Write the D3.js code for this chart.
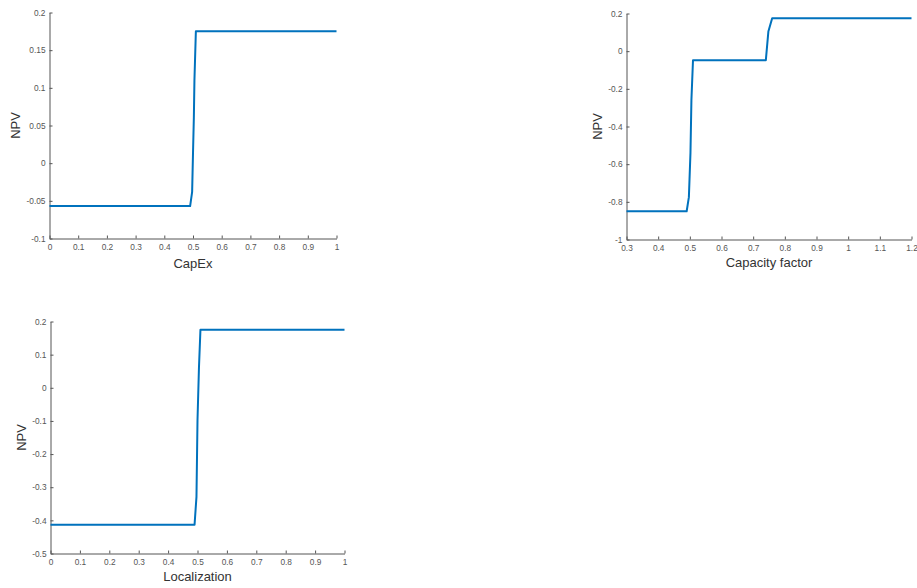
<!DOCTYPE html>
<html>
<head>
<meta charset="utf-8">
<script src="https://cdn.jsdelivr.net/npm/d3@7"></script>
<style>
  html, body { margin: 0; padding: 0; background: #fff; }
  svg { display: block; font-family: Arial, "Liberation Sans", Helvetica, sans-serif; }
</style>
</head>
<body>
<svg id="chart" width="917" height="588"></svg>
<script>
// ---- Data ----
const capexX   = [0, 0.49, 0.497, 0.5, 0.503, 0.505, 0.51, 1];
const capexNPV = [-0.057, -0.057, -0.038, 0.013, 0.061, 0.11, 0.175, 0.175];

const cfX   = [0.3, 0.49, 0.497, 0.502, 0.505, 0.51, 0.74, 0.748, 0.76, 1.2];
const cfNPV = [-0.85, -0.85, -0.775, -0.54, -0.26, -0.048, -0.048, 0.104, 0.175, 0.175];

const locX   = [0, 0.49, 0.4965, 0.5, 0.505, 0.51, 1];
const locNPV = [-0.413, -0.413, -0.329, -0.098, 0.062, 0.175, 0.175];

const capexXTicks = [0, 0.1, 0.2, 0.3, 0.4, 0.5, 0.6, 0.7, 0.8, 0.9, 1];
const capexYTicks = [-0.1, -0.05, 0, 0.05, 0.1, 0.15, 0.2];
const cfXTicks = [0.3, 0.4, 0.5, 0.6, 0.7, 0.8, 0.9, 1, 1.1, 1.2];
const cfYTicks = [-1, -0.8, -0.6, -0.4, -0.2, 0, 0.2];
const locXTicks = [0, 0.1, 0.2, 0.3, 0.4, 0.5, 0.6, 0.7, 0.8, 0.9, 1];
const locYTicks = [-0.5, -0.4, -0.3, -0.2, -0.1, 0, 0.1, 0.2];

const panels = [
  { x: capexX, y: capexNPV, xDomain: [0, 1], yDomain: [-0.1, 0.2], xTicks: capexXTicks, yTicks: capexYTicks,
    box: { left: 49.5, right: 336.5, top: 12.5, bottom: 238.5 }, xLabel: "CapEx", xLabelY: 268, yLabelX: 20 },
  { x: cfX, y: cfNPV, xDomain: [0.3, 1.2], yDomain: [-1, 0.2], xTicks: cfXTicks, yTicks: cfYTicks,
    box: { left: 626.5, right: 911.5, top: 13.5, bottom: 239.5 }, xLabel: "Capacity factor", xLabelY: 267, yLabelX: 602 },
  { x: locX, y: locNPV, xDomain: [0, 1], yDomain: [-0.5, 0.2], xTicks: locXTicks, yTicks: locYTicks,
    box: { left: 50.5, right: 344.5, top: 321.5, bottom: 553.5 }, xLabel: "Localization", xLabelY: 581, yLabelX: 26 }
];

const svg = d3.select("#chart");
const fmt = v => {
  const s = String(+v.toFixed(4));
  return s;
};

panels.forEach(p => {
  const b = p.box;
  const xs = d3.scaleLinear().domain(p.xDomain).range([b.left, b.right]);
  const ys = d3.scaleLinear().domain(p.yDomain).range([b.bottom, b.top]);
  const g = svg.append("g");

  // x axis (ticks inward)
  const xAxis = d3.axisBottom(xs).tickValues(p.xTicks).tickFormat(fmt).tickSizeInner(-3).tickSizeOuter(0).tickPadding(6);
  const gx = g.append("g").attr("transform", `translate(0,${b.bottom})`).call(xAxis);
  gx.select(".domain").attr("stroke", "#555").attr("stroke-width", 1);
  gx.selectAll(".tick line").attr("stroke", "#555");
  gx.selectAll(".tick text").attr("fill", "#555").attr("font-size", "8.3px").attr("font-family", "Arial, 'Liberation Sans', sans-serif");

  // y axis (ticks inward)
  const yAxis = d3.axisLeft(ys).tickValues(p.yTicks).tickFormat(fmt).tickSizeInner(-3).tickSizeOuter(0).tickPadding(4);
  const gy = g.append("g").attr("transform", `translate(${b.left},0)`).call(yAxis);
  gy.select(".domain").attr("stroke", "#555").attr("stroke-width", 1);
  gy.selectAll(".tick line").attr("stroke", "#555");
  gy.selectAll(".tick text").attr("fill", "#555").attr("font-size", "8.3px").attr("font-family", "Arial, 'Liberation Sans', sans-serif");

  // line
  const data = p.x.map((v, i) => [v, p.y[i]]);
  g.append("path")
    .datum(data)
    .attr("fill", "none")
    .attr("stroke", "#0072BD")
    .attr("stroke-width", 2)
    .attr("stroke-linejoin", "round")
    .attr("d", d3.line().x(d => xs(d[0])).y(d => ys(d[1])));

  // labels
  g.append("text")
    .attr("x", (b.left + b.right) / 2)
    .attr("y", p.xLabelY)
    .attr("text-anchor", "middle")
    .attr("font-size", "13px")
    .attr("fill", "#333")
    .text(p.xLabel);

  g.append("text")
    .attr("transform", `translate(${p.yLabelX},${(b.top + b.bottom) / 2}) rotate(-90)`)
    .attr("text-anchor", "middle")
    .attr("font-size", "13px")
    .attr("fill", "#333")
    .text("NPV");
});
</script>
</body>
</html>
